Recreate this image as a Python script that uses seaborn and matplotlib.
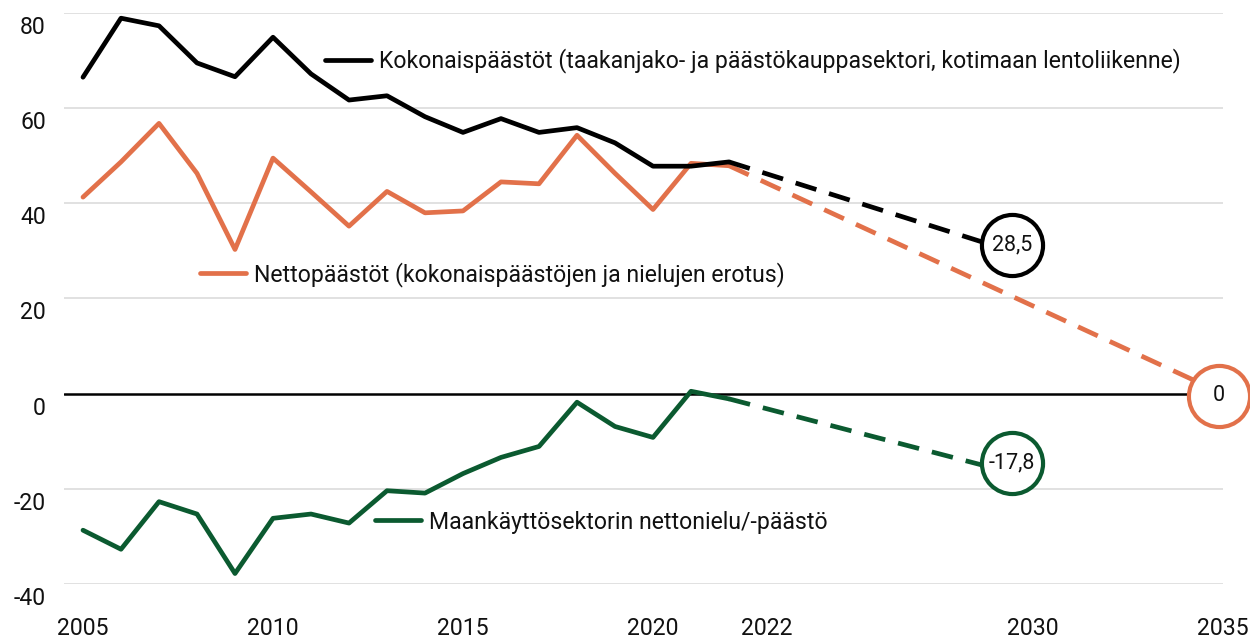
import matplotlib
matplotlib.use("Agg")
import matplotlib.pyplot as plt
import matplotlib.transforms as mtransforms
from matplotlib.lines import Line2D
import seaborn as sns
import pandas as pd

# toteutuneet päästöt, Mt CO2-ekv.
vuodet = list(range(2005, 2023))
kokonais = [66.5, 78.9, 77.3, 69.5, 66.6, 74.9, 67.2, 61.7, 62.6,
            58.2, 54.9, 57.8, 54.9, 55.9, 52.7, 47.8, 47.8, 48.7]
netto = [41.3, 48.7, 56.8, 46.3, 30.3, 49.5, 42.4, 35.2, 42.5,
         38.0, 38.4, 44.5, 44.1, 54.3, 46.3, 38.7, 48.4, 47.9]
maankaytto = [-28.7, -32.7, -22.7, -25.3, -37.8, -26.2, -25.3, -27.2, -20.4,
              -20.9, -16.8, -13.4, -11.1, -1.8, -6.9, -9.2, 0.5, -1.1]

# tavoitteet
tavoite_vuodet = [2030, 2035, 2030]
tavoite_arvot = [28.5, 0.0, -17.8]

nimet = [
    "Kokonaispäästöt (taakanjako- ja päästökauppasektori, kotimaan lentoliikenne)",
    "Nettopäästöt (kokonaispäästöjen ja nielujen erotus)",
    "Maankäyttösektorin nettonielu/-päästö",
]
varit = ["#000000", "#E2714A", "#0B5A30"]

x_tikit = [2005, 2010, 2015, 2020, 2022, 2030, 2035]
y_tikit = [-40, -20, 0, 20, 40, 60, 80]

sarjat = [kokonais, netto, maankaytto]
rivit = []
for nimi, arvot, tv, ta in zip(nimet, sarjat, tavoite_vuodet, tavoite_arvot):
    for v, a in zip(vuodet, arvot):
        rivit.append({"vuosi": v, "arvo": a, "sarja": nimi, "vaihe": "toteutunut"})
    rivit.append({"vuosi": vuodet[-1], "arvo": arvot[-1], "sarja": nimi, "vaihe": "arvio"})
    rivit.append({"vuosi": tv, "arvo": ta, "sarja": nimi, "vaihe": "arvio"})
df = pd.DataFrame(rivit)

sns.set_theme(style="white")
plt.rcParams["font.family"] = ["Roboto", "DejaVu Sans"]
plt.rcParams["axes.unicode_minus"] = False

FS = 16.6

fig = plt.figure(figsize=(12.5, 6.39), dpi=100)
ax = fig.add_axes([0.0512, 0.0861, 0.9272, 0.8936])

for y in y_tikit:
    if y != 0:
        ax.axhline(y, color="#D9D9D9", lw=1.1, zorder=0)
ax.axhline(0, color="black", lw=1.8, zorder=1)

paletti = dict(zip(nimet, varit))
sns.lineplot(data=df, x="vuosi", y="arvo", hue="sarja", style="vaihe",
             hue_order=[nimet[1], nimet[2], nimet[0]],
             style_order=["toteutunut", "arvio"],
             palette=paletti, dashes={"toteutunut": "", "arvio": (4.6, 2.8)},
             lw=3.4, legend=False, ax=ax, zorder=3,
             solid_joinstyle="round", dash_capstyle="butt")

# ympyrät tavoitteiden kohdalle
siirrot = [(-21, 13), (-4, -2), (-21, 15)]
for vari, tv, ta, (dx, dy) in zip(varit, tavoite_vuodet, tavoite_arvot, siirrot):
    tr = ax.transData + mtransforms.ScaledTranslation(dx / 100, dy / 100, fig.dpi_scale_trans)
    ax.plot([tv], [ta], marker="o", ms=44, mfc="white", mec=vari, mew=3.0,
            transform=tr, clip_on=False, zorder=5)
    teksti = "0" if ta == 0 else f"{ta:.1f}".replace(".", ",")
    ax.text(tv, ta, teksti, transform=tr, ha="center", va="center",
            fontsize=15.5, color="#111111", zorder=6)

ax.set_xlim(2004.5, 2035)
ax.set_ylim(-40, 80)
ax.set_xticks(x_tikit)
ax.set_xticklabels([str(v) for v in x_tikit])
ax.set_yticks(y_tikit)
ax.set_yticklabels([str(v) for v in y_tikit])
ax.tick_params(axis="both", length=0, labelsize=FS, colors="#111111")
ax.tick_params(axis="x", pad=24)
ax.tick_params(axis="y", pad=13)
ax.set_xlabel("")
ax.set_ylabel("")
for s in ax.spines.values():
    s.set_visible(False)

alas = mtransforms.ScaledTranslation(0, -0.12, fig.dpi_scale_trans)
for lab in ax.get_yticklabels():
    lab.set_transform(lab.get_transform() + alas)
oikealle = mtransforms.ScaledTranslation(0.38, 0, fig.dpi_scale_trans)
for lab in ax.get_xticklabels():
    if lab.get_text() == "2022":
        lab.set_transform(lab.get_transform() + oikealle)

# selitteet viivojen viereen
paikat = [(0.26, 0.9045), (0.16, 0.571), (0.30, 0.183)]
for nimi, vari, (lx, ly) in zip(nimet, varit, paikat):
    kahva = Line2D([], [], color=vari, lw=3.4, solid_capstyle="round")
    leg = fig.legend([kahva], [nimi], loc="center left", bbox_to_anchor=(lx, ly),
                     frameon=False, fontsize=FS, handlelength=2.0,
                     handletextpad=0.35, borderpad=0, borderaxespad=0)
    for t in leg.get_texts():
        t.set_color("#111111")

fig.savefig("out.png", dpi=100)
